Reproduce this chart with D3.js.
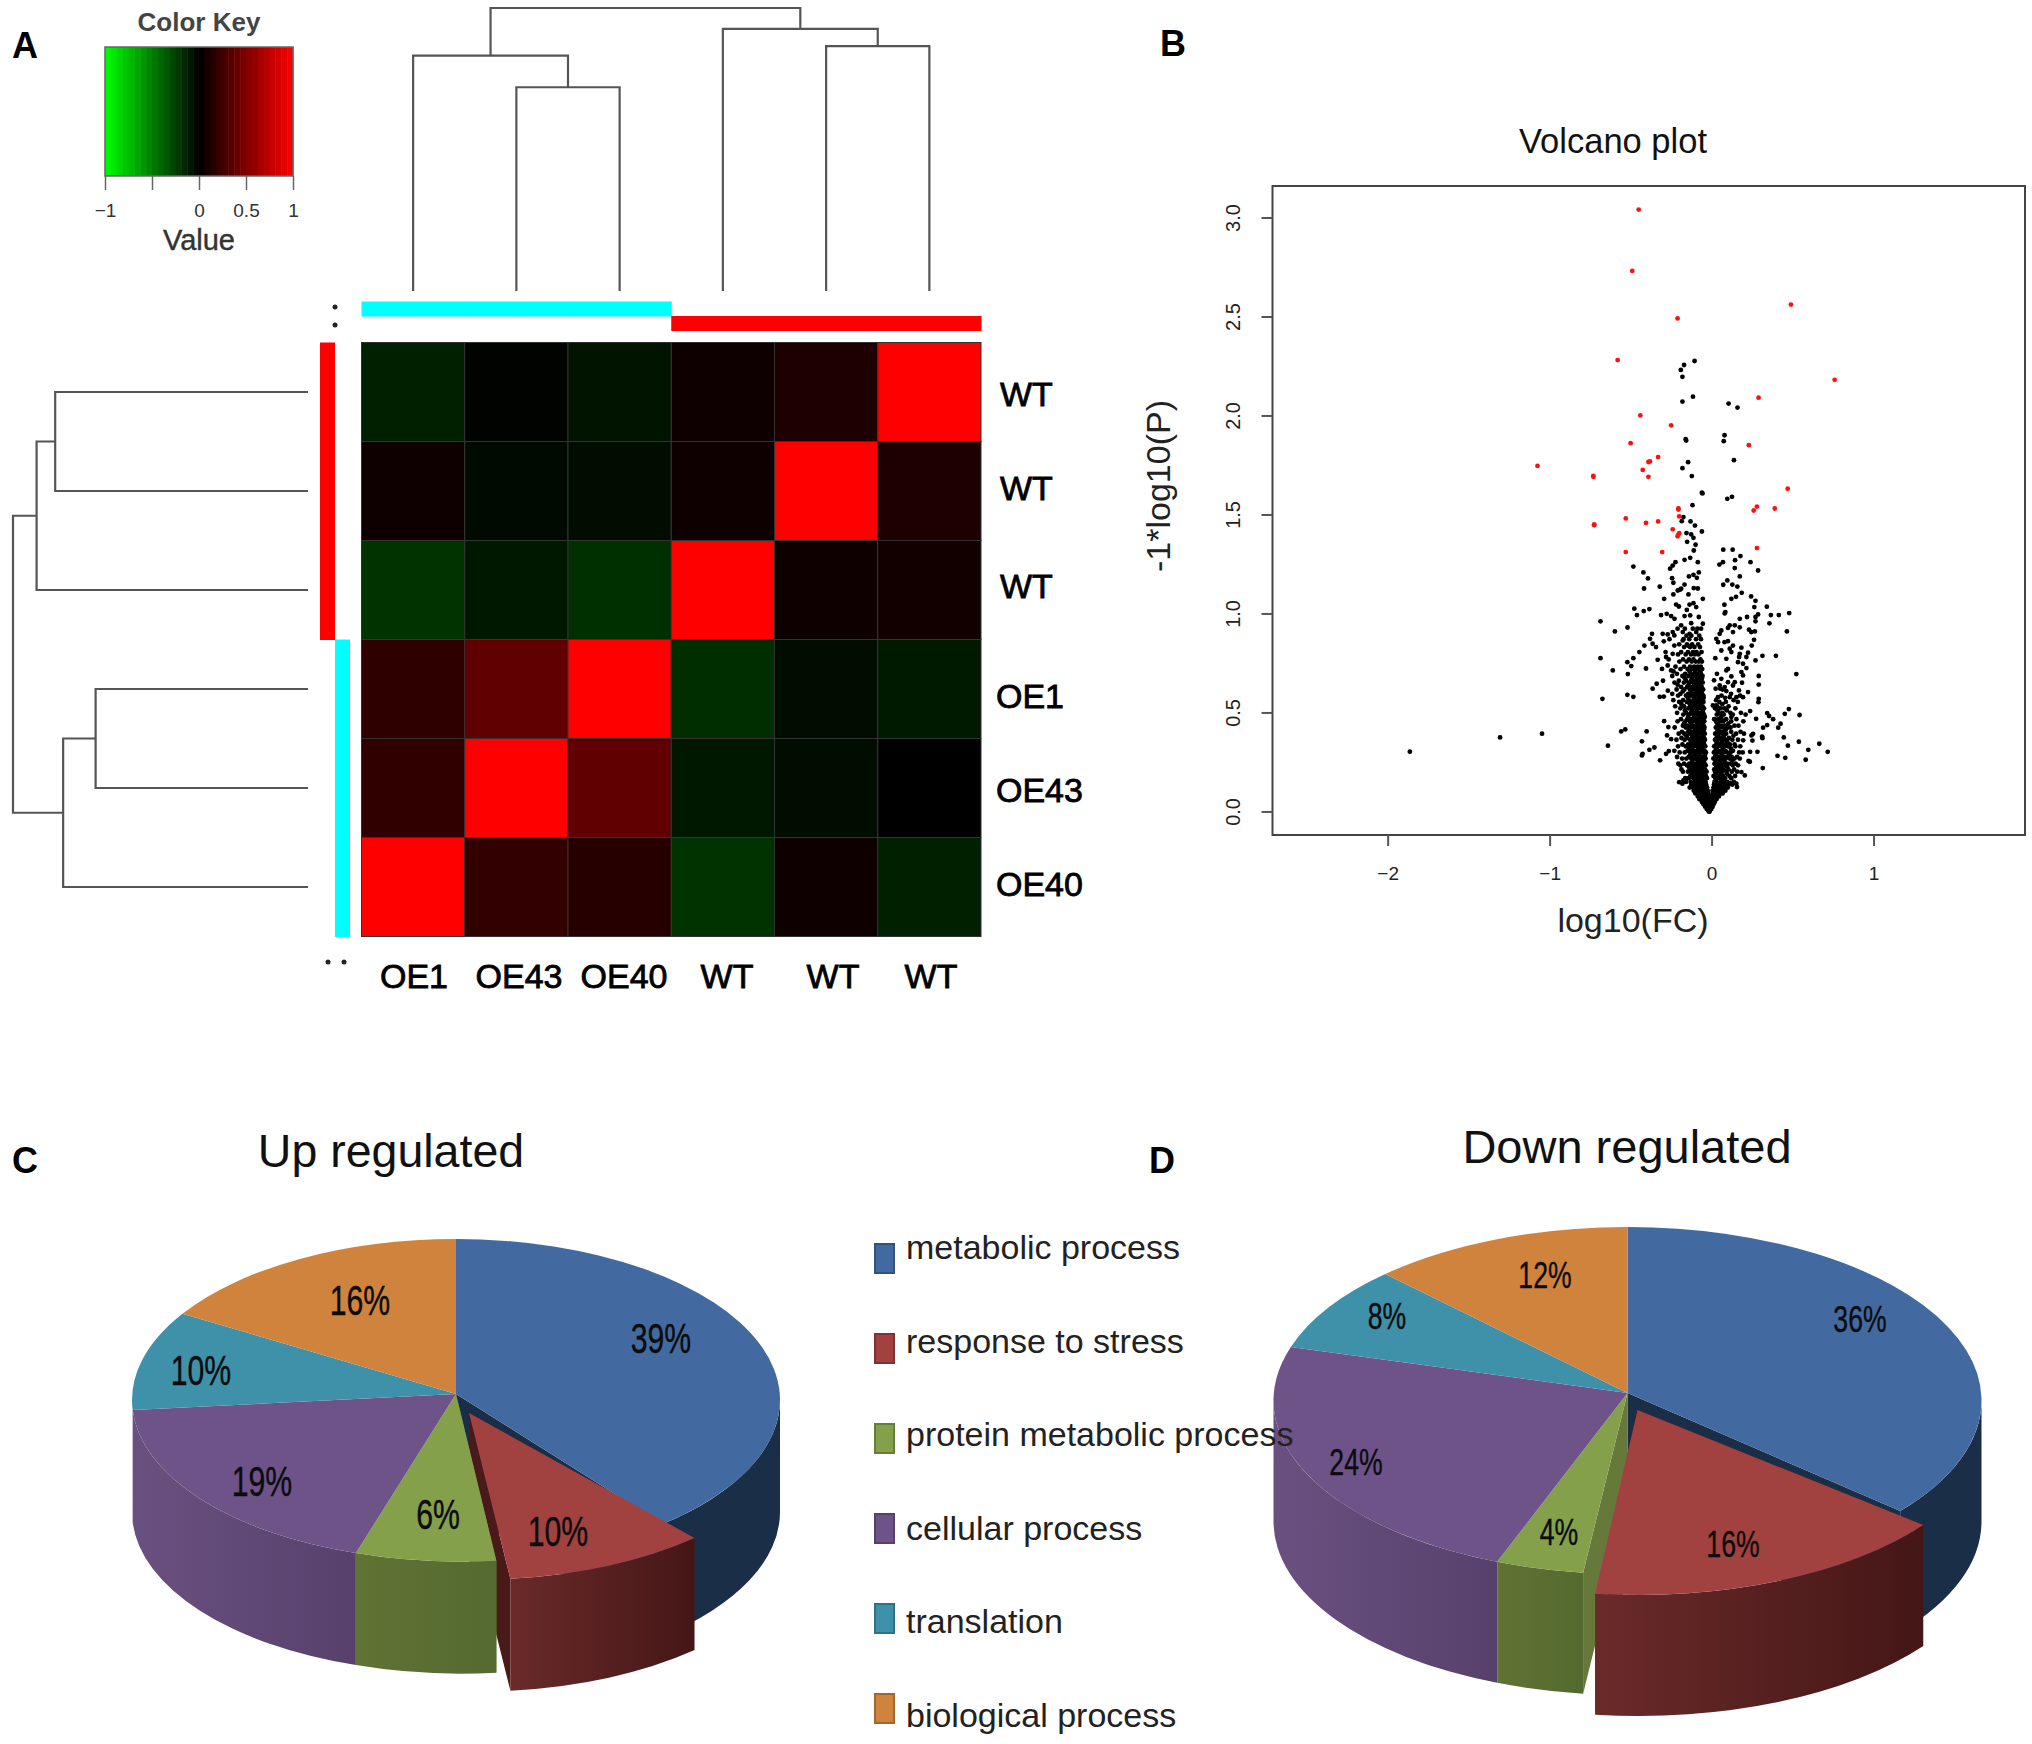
<!DOCTYPE html>
<html lang="en">
<head>
<meta charset="UTF-8">
<script src="https://d3js.org/d3.v7.min.js"></script>
<style>
  html, body { margin: 0; background: #fff; }
  text { font-family: "Liberation Sans", Arial, sans-serif; }
</style>
</head>
<body>
<div id="chart"></div>
<script>
// panel A
var colNames = ["OE1", "OE43", "OE40", "WT", "WT", "WT"];
var rowNames = ["WT", "WT", "WT", "OE1", "OE43", "OE40"];
var heatValues = [
  [-0.13, -0.01, -0.08, 0.06, 0.12, 1],
  [0.06, -0.04, -0.05, 0.06, 1, 0.12],
  [-0.2, -0.09, -0.19, 1, 0.06, 0.07],
  [0.18, 0.38, 1, -0.18, -0.05, -0.1],
  [0.19, 1, 0.38, -0.09, -0.05, 0],
  [1, 0.2, 0.15, -0.2, 0.06, -0.13]
];
var colSide = ["#00ffff", "#00ffff", "#00ffff", "#ff0000", "#ff0000", "#ff0000"];
var rowSide = ["#ff0000", "#ff0000", "#ff0000", "#00ffff", "#00ffff", "#00ffff"];
// [left child, right child, height], children above 5 are earlier merges
var colMerges = [[1, 2, 0.72], [0, 6, 0.832], [4, 5, 0.865], [3, 8, 0.926], [7, 9, 1]];
var rowMerges = [[0, 1, 0.857], [6, 2, 0.92], [3, 4, 0.72], [8, 5, 0.83], [7, 9, 1]];
var keyTicks = [-1, -0.5, 0, 0.5, 1];
var keyLabels = ["\u22121", "", "0", "0.5", "1"];

// panel B, [log10(FC), -log10(P)]
var redPoints = [[-0.45,3.04],[-0.49,2.73],[0.49,2.56],[-0.21,2.49],[-0.58,2.28],[0.76,2.18],[0.29,2.09],[-0.44,2.0],
  [-0.25,1.95],[-0.5,1.86],[0.23,1.85],[-0.33,1.79],[-0.39,1.765],[-0.38,1.768],[-1.075,1.745],[-0.425,1.725],
  [-0.39,1.69],[-0.73,1.69],[-0.73,1.695],[0.47,1.63],[0.28,1.54],[0.39,1.53],[-0.205,1.53],[-0.205,1.525],[0.26,1.52],
  [-0.2,1.49],[-0.53,1.48],[-0.33,1.465],[-0.405,1.457],[-0.725,1.446],[-0.725,1.45],[-0.24,1.425],[-0.2,1.405],
  [-0.21,1.39],[-0.205,1.398],[0.28,1.33],[-0.53,1.31],[-0.305,1.31]];
var blackOuter = [[-1.863,0.302],[-1.306,0.374],[-1.047,0.393],[-0.19,2.23],[-0.105,2.275],[-0.17,2.255],[-0.18,2.195],
  [-0.18,2.07],[-0.115,2.095],[0.105,2.06],[0.16,2.04],[0.08,1.9],[0.075,1.87],[-0.16,1.88],[-0.157,1.873],
  [-0.145,1.764],[-0.18,1.734],[-0.122,1.694],[-0.06,1.61],[-0.056,1.606],[-0.118,1.547],[0.138,1.774],[0.097,1.579],[0.126,1.589],
  [-0.174,1.487],[-0.184,1.466],[-0.13,1.465],[-0.103,1.444],[-0.06,1.414],[-0.155,1.406],[-0.126,1.399],[-0.112,1.382],
  [-0.151,1.362],[-0.099,1.347],[-0.11,1.318],[-0.132,1.281],[-0.167,1.271],[-0.085,1.259],[-0.223,1.259],[-0.24,1.242],
  [-0.256,1.226],[-0.483,1.237],[-0.421,1.207],[-0.393,1.177],[-0.417,1.126],[-0.32,1.135],[-0.244,1.178],[-0.236,1.155],
  [-0.14,1.187],[-0.112,1.195],[-0.079,1.207],[-0.091,1.18],[-0.167,1.146],[-0.188,1.125],[-0.209,1.116],[-0.236,1.096],
  [-0.293,1.074],[-0.195,1.12],[-0.143,1.096],[-0.11,1.128],[-0.085,1.126],[-0.054,1.074],[-0.219,1.045],[-0.202,1.035],
  [-0.136,1.045],[-0.112,1.052],[-0.153,1.018],[-0.095,1.032],[-0.477,1.024],[-0.384,1.022],[-0.419,1.012],[-0.461,0.992],
  [-0.312,0.992],[-0.277,0.998],[-0.25,0.987],[-0.229,0.973],[-0.167,0.987],[-0.132,0.99],[-0.079,0.982],[-0.686,0.96],
  [0.072,1.322],[0.13,1.322],[0.178,1.29],[0.145,1.269],[0.24,1.259],[0.07,1.259],[0.048,1.247],[0.143,1.229],[0.287,1.217],
  [0.174,1.187],[0.097,1.167],[0.072,1.145],[0.128,1.146],[0.159,1.136],[0.186,1.104],[0.244,1.086],[0.151,1.084],
  [0.122,1.074],[0.271,1.064],[0.079,1.044],[0.264,1.032],[0.341,1.034],[0.085,1.007],[0.081,1.0],[0.174,0.973],[0.219,0.982],
  [0.271,0.982],[0.287,0.995],[0.366,0.992],[0.415,0.992],[0.479,1.002],
  [-0.519,0.929],[-0.597,0.909],[-0.368,0.897],[-0.302,0.897],[-0.271,0.894],[-0.24,0.906],[-0.23,0.889],[-0.188,0.94],
  [-0.126,0.951],[-0.054,0.948],[-0.095,0.906],[-0.136,0.897],[-0.178,0.906],[-0.415,0.838],[-0.38,0.872],[-0.364,0.847],
  [-0.343,0.83],[-0.295,0.859],[-0.446,0.805],[-0.23,0.838],[-0.178,0.864],[-0.147,0.838],
  [-0.686,0.774],[-0.483,0.774],[-0.52,0.754],[-0.496,0.734],[-0.61,0.712],[-0.517,0.694],[-0.405,0.722],[-0.333,0.766],
  [-0.306,0.72],[-0.281,0.78],[-0.271,0.737],[-0.24,0.796],[-0.25,0.712],[-0.674,0.569],[-0.52,0.589],[-0.483,0.579],
  [-0.339,0.645],[-0.364,0.62],[-0.27,0.61],[-0.32,0.579],[-0.295,0.58],[-0.558,0.404],[-0.533,0.414],[-0.401,0.404],
  [-0.64,0.332],[-0.43,0.354],[-0.384,0.311],[-0.353,0.323],[-0.426,0.291],[-0.43,0.283],[-0.281,0.291],[-0.264,0.305],
  [-0.318,0.258],[-0.293,0.456],[-0.267,0.426],[-0.275,0.384],[-0.25,0.365],[-0.2,0.148],[-0.174,0.157],[-0.18,0.14],
  [0.357,0.95],[0.465,0.909],[0.271,0.96],[0.267,0.909],[0.231,0.918],[0.245,0.906],[0.174,0.93],[0.143,0.94],[0.112,0.94],
  [0.132,0.906],[0.101,0.927],[0.06,0.914],[0.05,0.897],[0.029,0.872],[0.04,0.855],[0.101,0.86],[0.08,0.855],[0.262,0.867],
  [0.248,0.838],[0.132,0.838],[0.112,0.822],[0.184,0.827],[0.122,0.805],[0.06,0.813],[0.314,0.786],[0.397,0.786],[0.271,0.763],
  [0.225,0.802],[0.215,0.78],[0.174,0.796],[0.17,0.78],[0.091,0.771],[0.023,0.774],[0.194,0.746],[0.163,0.754],
  [0.101,0.72],[0.091,0.712],[0.215,0.724],[0.184,0.704],[0.194,0.687],[0.033,0.695],[0.122,0.682],[0.523,0.694],[0.291,0.684],
  [0.291,0.641],[0.015,0.662],[0.06,0.67],[0.101,0.653],[0.143,0.653],[0.188,0.65],[0.05,0.636],[0.081,0.628],[0.132,0.636],
  [0.225,0.603],[0.169,0.611],[0.025,0.62],[0.054,0.62],[0.091,0.608],[0.291,0.569],[0.289,0.552],[0.194,0.577],[0.153,0.577],
  [0.112,0.577],[0.039,0.577],[0.029,0.535],[0.008,0.535],[0.477,0.517],[0.452,0.493],[0.543,0.487],[0.238,0.507],[0.343,0.497],
  [0.355,0.482],[0.38,0.466],[0.426,0.443],[0.411,0.423],[0.343,0.436],[0.318,0.423],[0.275,0.468],[0.446,0.374],[0.314,0.37],
  [0.312,0.378],[0.539,0.352],[0.471,0.332],[0.665,0.342],[0.597,0.311],[0.717,0.301],[0.283,0.301],[0.238,0.301],[0.407,0.281],
  [0.455,0.271],[0.581,0.261],[0.236,0.251],[0.228,0.255],[0.316,0.219],[0.256,0.392],[0.246,0.384],[0.195,0.359],[0.252,0.358],
  [0.184,0.199],[0.205,0.182],[0.153,0.14],[0.157,0.123]];
// dense part of the V, [p, [fc values at that level]]
var coreRows = [
  [0.0,[-0.015,-0.018,-0.012]],
  [0.012,[-0.03,-0.022,-0.015,-0.008,-0.002]],
  [0.024,[-0.04,-0.03,-0.02,-0.01,0,0.006]],
  [0.036,[-0.05,-0.035,-0.025,-0.015,-0.005,0.004,0.012]],
  [0.048,[-0.06,-0.048,-0.036,-0.024,-0.012,0.002,0.012,0.02]],
  [0.062,[-0.075,-0.062,-0.05,-0.038,-0.026,-0.008,0.006,0.018,0.03]],
  [0.076,[-0.085,-0.07,-0.058,-0.044,-0.03,-0.012,0.004,0.02,0.034,0.045]],
  [0.091,[-0.1,-0.082,-0.066,-0.05,-0.036,-0.02,0.008,0.025,0.04,0.055,0.068]],
  [0.105,[-0.11,-0.09,-0.072,-0.056,-0.04,-0.024,0.006,0.02,0.035,0.052,0.07,0.085]],
  [0.121,[-0.135,-0.115,-0.095,-0.08,-0.062,-0.045,-0.028,0.012,0.03,0.045,0.065,0.08,0.1]],
  [0.136,[-0.125,-0.097,-0.083,-0.064,-0.05,-0.034,0.015,0.037,0.051,0.072,0.09,0.106,0.128]],
  [0.149,[-0.158,-0.129,-0.104,-0.091,-0.07,-0.056,-0.037,0.018,0.031,0.058,0.079,0.097,0.137]],
  [0.168,[-0.163,-0.142,-0.112,-0.098,-0.081,-0.06,-0.043,-0.029,0.024,0.046,0.066,0.083,0.121]],
  [0.179,[-0.131,-0.105,-0.089,-0.067,-0.052,-0.035,0.012,0.033,0.052,0.07,0.11,0.145]],
  [0.201,[-0.177,-0.146,-0.118,-0.1,-0.085,-0.061,-0.044,-0.031,0.021,0.038,0.063,0.091,0.125,0.158]],
  [0.212,[-0.186,-0.133,-0.109,-0.092,-0.074,-0.057,-0.04,0.016,0.035,0.05,0.074,0.104,0.139]],
  [0.233,[-0.193,-0.152,-0.124,-0.102,-0.087,-0.066,-0.048,-0.036,0.027,0.045,0.066,0.085,0.131,0.163]],
  [0.241,[-0.205,-0.17,-0.138,-0.114,-0.095,-0.079,-0.058,-0.043,0.018,0.037,0.056,0.076,0.096,0.118,0.149]],
  [0.267,[-0.182,-0.156,-0.126,-0.104,-0.092,-0.071,-0.053,-0.037,0.011,0.03,0.046,0.069,0.087,0.112,0.141,0.174]],
  [0.275,[-0.213,-0.141,-0.117,-0.098,-0.081,-0.062,-0.044,0.021,0.041,0.059,0.081,0.103,0.124,0.157]],
  [0.298,[-0.197,-0.166,-0.124,-0.108,-0.086,-0.07,-0.05,-0.035,0.014,0.034,0.055,0.071,0.095,0.117,0.17,0.192]],
  [0.306,[-0.23,-0.148,-0.134,-0.115,-0.096,-0.079,-0.061,-0.043,0.024,0.043,0.064,0.086,0.132]],
  [0.329,[-0.207,-0.16,-0.128,-0.111,-0.09,-0.073,-0.054,-0.039,0.016,0.037,0.058,0.077,0.101,0.147,0.177]],
  [0.338,[-0.18,-0.145,-0.119,-0.101,-0.083,-0.062,-0.046,0.028,0.047,0.069,0.091,0.113,0.142]],
  [0.362,[-0.217,-0.167,-0.133,-0.108,-0.091,-0.075,-0.056,-0.041,0.021,0.04,0.06,0.084,0.128,0.163]],
  [0.371,[-0.186,-0.15,-0.122,-0.098,-0.083,-0.064,-0.047,0.031,0.05,0.071,0.107]],
  [0.393,[-0.203,-0.168,-0.137,-0.114,-0.093,-0.076,-0.058,-0.042,0.022,0.045,0.065,0.09,0.151,0.2]],
  [0.402,[-0.183,-0.145,-0.125,-0.104,-0.085,-0.066,-0.05,0.034,0.056,0.078,0.121,0.179]],
  [0.424,[-0.228,-0.16,-0.131,-0.11,-0.093,-0.074,-0.059,-0.044,0.026,0.047,0.069,0.1,0.117]],
  [0.433,[-0.177,-0.148,-0.12,-0.098,-0.082,-0.065,-0.049,0.039,0.06,0.082,0.141,0.166]],
  [0.455,[-0.21,-0.162,-0.134,-0.116,-0.094,-0.076,-0.06,-0.045,0.028,0.051,0.073,0.121,0.196]],
  [0.466,[-0.189,-0.15,-0.124,-0.103,-0.086,-0.067,-0.052,0.016,0.04,0.062,0.09,0.153]],
  [0.489,[-0.175,-0.139,-0.113,-0.094,-0.079,-0.06,-0.047,0.032,0.054,0.075,0.131,0.21]],
  [0.498,[-0.213,-0.157,-0.127,-0.106,-0.087,-0.07,-0.053,0.044,0.068,0.116,0.181]],
  [0.521,[-0.193,-0.143,-0.118,-0.097,-0.081,-0.061,-0.047,0.021,0.057,0.082,0.147]],
  [0.531,[-0.225,-0.17,-0.132,-0.109,-0.09,-0.072,-0.055,0.035,0.105]],
  [0.553,[-0.2,-0.153,-0.122,-0.1,-0.081,-0.064,-0.05,0.048,0.088,0.162]],
  [0.562,[-0.236,-0.176,-0.14,-0.112,-0.092,-0.072,-0.057,0.028,0.136]],
  [0.585,[-0.207,-0.158,-0.129,-0.104,-0.084,-0.066,-0.051,0.061,0.176]],
  [0.594,[-0.243,-0.192,-0.145,-0.117,-0.096,-0.077,-0.059,0.12]],
  [0.616,[-0.216,-0.168,-0.134,-0.108,-0.086,-0.07,-0.052,0.068]],
  [0.629,[-0.188,-0.151,-0.119,-0.099,-0.08,-0.061]],
  [0.651,[-0.229,-0.171,-0.136,-0.113,-0.09,-0.072,-0.055]],
  [0.66,[-0.3,-0.202,-0.157,-0.126,-0.102,-0.083,-0.063]],
  [0.684,[-0.243,-0.18,-0.143,-0.115,-0.095,-0.074,-0.056]],
  [0.695,[-0.214,-0.163,-0.128,-0.105,-0.085,-0.066]],
  [0.719,[-0.192,-0.148,-0.12,-0.096,-0.077,-0.058]],
  [0.731,[-0.223,-0.17,-0.133,-0.108,-0.086,-0.067]],
  [0.757,[-0.199,-0.154,-0.123,-0.098,-0.079,-0.06]],
  [0.768,[-0.265,-0.176,-0.14,-0.112,-0.069]],
  [0.793,[-0.207,-0.16,-0.127,-0.104,-0.081]],
  [0.805,[-0.284,-0.188,-0.146,-0.115,-0.093,-0.062]],
  [0.83,[-0.17,-0.133,-0.106,-0.072]],
  [0.844,[-0.2,-0.152,-0.12,-0.083]],
  [0.87,[-0.26,-0.173,-0.138,-0.096,-0.066]],
  [0.888,[-0.155,-0.125,-0.076]],
  [0.923,[-0.21,-0.165,-0.116,-0.088,-0.065]],
  // second pass over the thickest stretch of both arms
  [0.143,[-0.112,-0.075,-0.043,0.026,0.062,0.115]],
  [0.19,[-0.122,-0.095,-0.073,-0.046,0.027,0.06,0.094]],
  [0.224,[-0.14,-0.113,-0.081,-0.052,0.029,0.057,0.097]],
  [0.256,[-0.119,-0.086,-0.064,-0.047,0.024,0.052,0.079,0.128]],
  [0.285,[-0.133,-0.103,-0.075,-0.041,0.027,0.063,0.108]],
  [0.318,[-0.141,-0.12,-0.082,-0.058,0.03,0.072,0.119]],
  [0.35,[-0.127,-0.096,-0.069,-0.05,0.033,0.065,0.098]],
  [0.382,[-0.156,-0.118,-0.087,-0.053,0.036,0.077,0.135]],
  [0.414,[-0.138,-0.101,-0.071,-0.047,0.041,0.088]],
  [0.445,[-0.17,-0.127,-0.089,-0.056,0.035,0.104]],
  [0.477,[-0.145,-0.108,-0.073,-0.042,0.058,0.122]],
  [0.51,[-0.165,-0.122,-0.091,-0.055,0.037,0.094]],
  [0.542,[-0.186,-0.134,-0.104,-0.068,0.066]],
  [0.574,[-0.147,-0.11,-0.08,-0.049,0.083]],
  [0.606,[-0.178,-0.126,-0.091,-0.063]],
  [0.64,[-0.21,-0.142,-0.107,-0.076]],
  [0.673,[-0.165,-0.121,-0.088,-0.06]],
  [0.707,[-0.235,-0.136,-0.101,-0.07]]
];

// panels C and D
var pieLabels = ["metabolic process", "response to stress", "protein metabolic process", "cellular process", "translation", "biological process"];
var topColors = ["#426aa0", "#a24240", "#84a04a", "#6e5389", "#3f91aa", "#d0833c"];
var upValues = [39, 10, 6, 19, 10, 16];
var downValues = [36, 16, 4, 24, 8, 12];

var width = 2032, height = 1744;
var svg = d3.select("#chart").append("svg")
  .attr("width", width).attr("height", height)
  .style("display", "block");
var defs = svg.append("defs");

function addText(parent, x, y, str, size, opts) {
  opts = opts || {};
  return parent.append("text").attr("x", x).attr("y", y).text(str)
    .attr("font-size", size)
    .attr("dy", "0.35em")
    .attr("text-anchor", opts.anchor || "middle")
    .attr("font-weight", opts.weight || "normal")
    .attr("fill", opts.fill || "#111")
    .attr("stroke", opts.stroke || "none")
    .attr("stroke-width", opts.stroke ? (opts.sw || 0.6) : 0);
}

addText(svg, 25, 45, "A", 36, { weight: "bold", fill: "#000" });
addText(svg, 1173, 43, "B", 36, { weight: "bold", fill: "#000" });
addText(svg, 25, 1160, "C", 36, { weight: "bold", fill: "#000" });
addText(svg, 1162, 1160, "D", 36, { weight: "bold", fill: "#000" });

// ---- A: heat map
var idx = d3.range(6);
var hx = d3.scaleBand().domain(idx).range([361.5, 981]);
var hy = d3.scaleBand().domain(idx).range([342.5, 936.5]);
var heatColor = d3.scaleLinear().domain([-1, 0, 1]).range(["#00ff00", "#000000", "#ff0000"]);

var heat = svg.append("g");
heatValues.forEach(function (row, r) {
  heat.selectAll(".r" + r).data(row).enter().append("rect")
    .attr("x", function (d, c) { return hx(c); })
    .attr("y", hy(r))
    .attr("width", hx.bandwidth())
    .attr("height", hy.bandwidth())
    .attr("fill", function (d) { return heatColor(d); })
    .attr("stroke", "#333").attr("stroke-width", 1);
});

svg.selectAll(".colside").data(colSide).enter().append("rect")
  .attr("x", function (d, i) { return hx(i); })
  .attr("y", function (d) { return d === "#00ffff" ? 301.5 : 316; })
  .attr("width", hx.bandwidth() + 0.5).attr("height", 15)
  .attr("fill", function (d) { return d; });
svg.selectAll(".rowside").data(rowSide).enter().append("rect")
  .attr("x", function (d) { return d === "#ff0000" ? 320 : 335; })
  .attr("y", function (d, i) { return hy(i); })
  .attr("width", 15).attr("height", hy.bandwidth() + 0.5)
  .attr("fill", function (d) { return d; });

// the small marks next to the side bars
[[335, 307], [335, 325], [328, 962], [344, 962]].forEach(function (p) {
  svg.append("circle").attr("cx", p[0]).attr("cy", p[1]).attr("r", 2.5).attr("fill", "#222");
});

rowNames.forEach(function (n, i) {
  var ys = [394, 488, 586, 696, 790, 884];
  addText(svg, n === "WT" ? 1000 : 996, ys[i], n, 34, { anchor: "start", fill: "#000", stroke: "#000", sw: 0.8 });
});
colNames.forEach(function (n, i) {
  var xs = [414, 519, 624, 727, 833, 931];
  addText(svg, xs[i], 976, n, 34, { fill: "#000", stroke: "#000", sw: 0.8 });
});

// dendrograms
function dendro(merges, leafPos, pos) {
  var nodes = leafPos.map(function (p) { return { p: p, h: 0 }; });
  var out = [];
  merges.forEach(function (m) {
    var a = nodes[m[0]], b = nodes[m[1]], h = m[2];
    out.push([[a.p, a.h], [a.p, h], [b.p, h], [b.p, b.h]]);
    nodes.push({ p: (a.p + b.p) / 2, h: h });
  });
  return out.map(function (seg) { return seg.map(pos); });
}
var topH = d3.scaleLinear().domain([0, 1]).range([291, 8]);
var leftH = d3.scaleLinear().domain([0, 1]).range([308, 13]);
var elbow = d3.line();
var colLeaf = idx.map(function (i) { return hx(i) + hx.bandwidth() / 2; });
var rowLeaf = idx.map(function (i) { return hy(i) + hy.bandwidth() / 2; });
var dendroSegs = dendro(colMerges, colLeaf, function (d) { return [d[0], topH(d[1])]; })
  .concat(dendro(rowMerges, rowLeaf, function (d) { return [leftH(d[1]), d[0]]; }));
svg.selectAll(".dendro").data(dendroSegs).enter().append("path")
  .attr("d", elbow).attr("fill", "none").attr("stroke", "#555").attr("stroke-width", 2.2);

// colour key
var keyX = d3.scaleLinear().domain([-1, 1]).range([105, 293]);
var keyBins = d3.range(-1, 1, 2 / 32);
svg.selectAll(".keybin").data(keyBins).enter().append("rect")
  .attr("x", function (d) { return keyX(d); })
  .attr("y", 47).attr("height", 129)
  .attr("width", keyX(2 / 32 - 1) - keyX(-1) + 0.5)
  .attr("fill", function (d) { return heatColor(d + 1 / 32); });
svg.append("rect").attr("x", 105).attr("y", 47).attr("width", 188).attr("height", 129)
  .attr("fill", "none").attr("stroke", "#666").attr("stroke-width", 1.5);
var keyAxis = d3.axisBottom(keyX).tickValues(keyTicks).tickSize(14).tickPadding(14)
  .tickFormat(function (d, i) { return keyLabels[i]; });
svg.append("g").attr("transform", "translate(0,176)").call(keyAxis)
  .call(function (g) {
    g.select(".domain").remove();
    g.selectAll("line").attr("stroke", "#666").attr("stroke-width", 1.5);
    g.selectAll("text").filter(function (d, i) { return !keyLabels[i]; }).remove();
    g.selectAll("text").attr("font-size", 19).attr("fill", "#333")
      .attr("font-family", "Liberation Sans");
  });
addText(svg, 199, 22, "Color Key", 26, { weight: "bold", fill: "#444" });
addText(svg, 199, 240, "Value", 29, { fill: "#333", stroke: "#333", sw: 0.4 });

// ---- B: volcano
var vx = d3.scaleLinear().domain([-2.711, 1.935]).range([1272.5, 2025]);
var vy = d3.scaleLinear().domain([-0.119, 3.159]).range([835, 186]);
var blackPoints = blackOuter.concat(d3.merge(coreRows.map(function (row) {
  return row[1].map(function (fc) { return [fc, row[0]]; });
})));

svg.append("g").selectAll("circle").data(blackPoints).enter().append("circle")
  .attr("cx", function (d) { return vx(d[0]); })
  .attr("cy", function (d) { return vy(d[1]); })
  .attr("r", 2.4).attr("fill", "#000");
svg.append("g").selectAll("circle").data(redPoints).enter().append("circle")
  .attr("cx", function (d) { return vx(d[0]); })
  .attr("cy", function (d) { return vy(d[1]); })
  .attr("r", 2.4).attr("fill", "#ff1010");

svg.append("rect").attr("x", 1272.5).attr("y", 186).attr("width", 752.5).attr("height", 649)
  .attr("fill", "none").attr("stroke", "#444").attr("stroke-width", 2);

svg.append("g").attr("transform", "translate(0,835)")
  .call(d3.axisBottom(vx).tickValues([-2, -1, 0, 1]).tickSize(11).tickPadding(21).tickFormat(d3.format("d")))
  .call(function (g) {
    g.select(".domain").remove();
    g.selectAll("line").attr("stroke", "#555").attr("stroke-width", 2);
    g.selectAll("text").attr("font-size", 19).attr("fill", "#222").attr("font-family", "Liberation Sans");
  });
svg.append("g").attr("transform", "translate(1272.5,0)")
  .call(d3.axisLeft(vy).tickValues([0, 0.5, 1, 1.5, 2, 2.5, 3]).tickSize(11).tickFormat(d3.format(".1f")))
  .call(function (g) {
    g.select(".domain").remove();
    g.selectAll("line").attr("stroke", "#555").attr("stroke-width", 2);
    g.selectAll("text").attr("font-size", 20).attr("fill", "#222").attr("font-family", "Liberation Sans")
      .attr("transform", "rotate(-90)").attr("text-anchor", "middle")
      .attr("x", 0).attr("dy", 0).attr("y", -33);
  });
addText(svg, 1613, 141, "Volcano plot", 34.5);
addText(svg, 1633, 920, "log10(FC)", 34, { fill: "#222" });
addText(svg, 0, 0, "-1*log10(P)", 34, { fill: "#222" })
  .attr("transform", "translate(1158,486) rotate(-90)");

// ---- C, D: tilted pies
function hGrad(id, a, b) {
  var g = defs.append("linearGradient").attr("id", id);
  g.append("stop").attr("offset", "0%").attr("stop-color", a);
  g.append("stop").attr("offset", "100%").attr("stop-color", b);
  return "url(#" + id + ")";
}
var wallRed = hGrad("wallRed", "#6a2a2a", "#451616");
var wallPurple = hGrad("wallPurple", "#6a5080", "#57416c");
var wallGreen = hGrad("wallGreen", "#5f7334", "#556a30");
var navy = "#1b2e47";

function drawPie(values, o) {
  var g = svg.append("g");
  var slices = d3.pie().sort(null)(values);
  function rim(t) { return [o.cx + o.rx * Math.sin(t), o.cy - o.ry * Math.cos(t)]; }
  function add(p, s) { return [p[0] + (s ? s[0] : 0), p[1] + (s ? s[1] : 0)]; }
  function sideArc(b, sweep, large) {
    return "A" + o.rx + "," + o.ry + " 0 " + large + " " + sweep + " " + b[0] + "," + b[1];
  }
  // outer wall between two rim points, facing the viewer
  function wall(t0, t1, s0, s1) {
    var lo = Math.max(t0, Math.PI / 2), hi = Math.min(t1, Math.PI * 1.5);
    var a = add(rim(lo), s0), b = add(rim(hi), s1);
    var d0 = [0, o.depth];
    return "M" + a + sideArc(b, 1, 0) + "L" + add(b, d0) + sideArc(add(a, d0), 0, 0) + "Z";
  }
  // cut face running from the centre out to a rim point
  function face(apex, a) {
    var d0 = [0, o.depth];
    return "M" + apex + "L" + a + "L" + add(a, d0) + "L" + add(apex, d0) + "Z";
  }
  function top(apex, t0, t1, s0, s1) {
    var a = add(rim(t0), s0), b = add(rim(t1), s1);
    return "M" + apex + "L" + a + sideArc(b, 1, t1 - t0 > Math.PI ? 1 : 0) + "Z";
  }
  function paint(d, fill) { g.append("path").attr("d", d).attr("fill", fill); }

  var apex = [o.cx, o.apexY];
  var blue = slices[0], red = slices[1], green = slices[2], purple = slices[3];
  var redApex = add(apex, o.redApex);

  paint(wall(blue.startAngle, blue.endAngle), navy);
  paint(face(apex, rim(blue.endAngle)), navy);
  paint(face(redApex, add(rim(red.endAngle), o.redEnd)), "#4a1a1a");
  paint(wall(purple.startAngle, purple.endAngle), wallPurple);
  paint(face(apex, add(rim(green.startAngle), o.greenStart)), "#66793a");
  paint(wall(green.startAngle, green.endAngle, o.greenStart), wallGreen);
  paint(wall(red.startAngle, red.endAngle, o.redStart, o.redEnd), wallRed);

  slices.forEach(function (s, i) {
    if (i === 1) {
      paint(top(redApex, s.startAngle, s.endAngle, o.redStart, o.redEnd), topColors[i]);
    } else {
      paint(top(apex, s.startAngle, s.endAngle, i === 2 ? o.greenStart : null), topColors[i]);
    }
  });

  slices.forEach(function (s, i) {
    g.append("text").text(s.value + "%")
      .attr("transform", "translate(" + o.labelAt[i] + ") scale(0.72,1)")
      .attr("text-anchor", "middle").attr("dy", "0.36em")
      .attr("font-size", o.fontSize).attr("fill", "#0c0c0c")
      .attr("stroke", "#0c0c0c").attr("stroke-width", 0.4);
  });
}

drawPie(upValues, {
  cx: 456, rx: 324, cy: 1400, ry: 161, apexY: 1394, depth: 112,
  redApex: [13, 19], redStart: [32, 14], redEnd: [34, 18], greenStart: [20, 0],
  fontSize: 42,
  labelAt: [[661, 1338], [558, 1531], [438, 1514], [262, 1481], [201, 1370], [360, 1300]]
});
drawPie(downValues, {
  cx: 1627.5, rx: 354, cy: 1400.5, ry: 173.5, apexY: 1393, depth: 121,
  redApex: [10, 17], redStart: [23, 14], redEnd: [12, 21], greenStart: [0, 0],
  fontSize: 37,
  labelAt: [[1860, 1319], [1733, 1544], [1559, 1532], [1356, 1462], [1387, 1316], [1545, 1275]]
});

addText(svg, 391, 1151, "Up regulated", 46.5);
addText(svg, 1627, 1147, "Down regulated", 47);

// legend shared by both pies
var legBox = d3.scaleLinear().domain([0, 5]).range([1244, 1694]);
var legText = d3.scaleLinear().domain([0, 5]).range([1247, 1715]);
pieLabels.forEach(function (n, i) {
  svg.append("rect").attr("x", 875).attr("y", legBox(i)).attr("width", 19).attr("height", 29)
    .attr("fill", topColors[i]).attr("stroke", d3.color(topColors[i]).darker(0.7)).attr("stroke-width", 2);
  addText(svg, 906, legText(i), n, 34, { anchor: "start", fill: "#222" });
});
</script>
</body>
</html>
